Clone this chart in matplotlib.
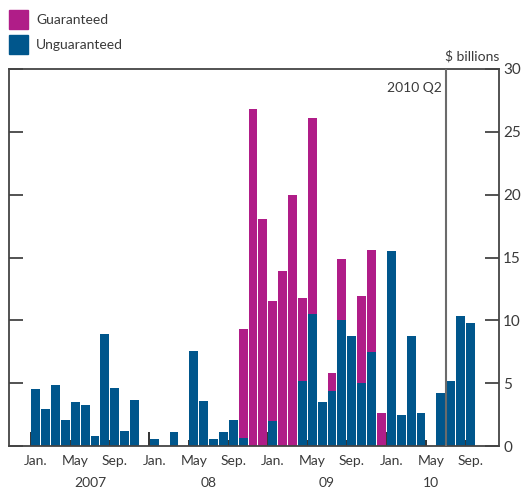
import numpy as np
import matplotlib.pyplot as plt
from matplotlib.ticker import FixedLocator

plt.rcParams['font.family'] = ['Lato', 'DejaVu Sans']

# monthly, Jan 2007 .. Sep 2010 ($ billions)
unguaranteed = [4.55, 2.95, 4.86, 2.07, 3.51, 3.27, 0.80, 8.93, 4.62, 1.20, 3.67, 0.0,
                0.56, 0.0, 1.12, 0.0, 7.58, 3.59, 0.56, 1.12, 2.07, 0.64, 0.0, 0.0,
                2.0, 0.0, 0.0, 5.18, 10.5, 3.5, 4.39, 10.05, 8.77, 5.02, 7.5, 0.0,
                15.55, 2.47, 8.77, 2.63, 0.0, 4.23, 5.18, 10.37, 9.8]
guaranteed = [0.0] * 21 + [8.69, 26.8, 18.1,
              9.56, 13.9, 20.0, 6.62, 15.6, 0.0, 1.43, 4.85, 0.0, 6.94, 8.1, 2.63,
              0.0, 0.0, 0.0, 0.0, 0.0, 0.0, 0.0, 0.0, 0.0]
month_labels = ['Jan.', 'May', 'Sep.'] * 4
year_labels = ['2007', '08', '09', '10']
year_centres = [6, 18, 30, 40.5]

blue = '#00568C'
magenta = '#B01D88'
grey = '#444444'
txt = '#3a3a3a'
fs = 10

fig = plt.figure(figsize=(5.21, 4.88), dpi=100)
ax = fig.add_axes([9 / 521, 42 / 488, 490 / 521, 377 / 488])

x = np.arange(len(unguaranteed)) + 0.5
ax.bar(x, unguaranteed, width=0.9, color=blue, zorder=2)
ax.bar(x, guaranteed, width=0.9, bottom=unguaranteed, color=magenta, zorder=2)

ax.set_xlim(-2.2, 47.4)
ax.set_ylim(0, 30)

for s in ax.spines.values():
    s.set_color(grey)
    s.set_linewidth(1.3)

ax.axvline(42, color='#6b6b6b', lw=1.5, zorder=3)
ax.text(41.6, 29.0, '2010 Q2', ha='right', va='top', fontsize=fs, color=txt)
ax.text(1.0, 1.018, '$ billions', transform=ax.transAxes, ha='right', va='bottom',
        fontsize=fs, color=txt)

# y axis: ticks inside on both sides, labels on right
ax.set_yticks(range(0, 31, 5))
ax.tick_params(axis='y', which='major', direction='in', length=10, width=1.3, color=grey,
               left=True, right=True, labelleft=False, labelright=True,
               labelsize=11, labelcolor=txt, pad=3)

# x axis: long ticks at Jan, short at May/Sep, labels at month centres
ax.xaxis.set_major_locator(FixedLocator([0, 12, 24, 36]))
ax.xaxis.set_minor_locator(FixedLocator([4, 8, 16, 20, 28, 32, 40, 44]))
ax.tick_params(axis='x', which='major', direction='in', length=10, width=1.3, color='#222222',
               labelbottom=False)
ax.tick_params(axis='x', which='minor', direction='in', length=4.3, width=1.3, color='#222222',
               labelbottom=False)

trans = ax.get_xaxis_transform()
for i, lab in enumerate(month_labels):
    ax.text(i * 4 + 0.5, -0.041, lab, transform=trans, ha='center', va='center',
            fontsize=fs, color=txt)
for c, lab in zip(year_centres, year_labels):
    ax.text(c, -0.097, lab, transform=trans, ha='center', va='center',
            fontsize=fs, color=txt)

# legend
fig.patches.append(plt.Rectangle((9 / 521, 1 - 29 / 488), 19 / 521, 19 / 488,
                                 transform=fig.transFigure, color=magenta))
fig.patches.append(plt.Rectangle((9 / 521, 1 - 54 / 488), 19 / 521, 19 / 488,
                                 transform=fig.transFigure, color=blue))
fig.text(36 / 521, 1 - 20 / 488, 'Guaranteed', ha='left', va='center', fontsize=fs, color=txt)
fig.text(36 / 521, 1 - 45 / 488, 'Unguaranteed', ha='left', va='center', fontsize=fs, color=txt)

fig.savefig('out.png', dpi=100)
